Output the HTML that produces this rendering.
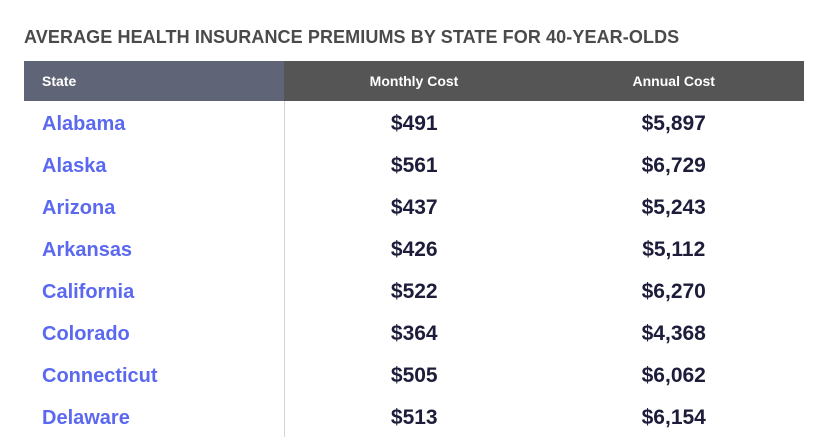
<!DOCTYPE html>
<html><head><meta charset="utf-8"><style>
body{margin:0;width:826px;height:445px;background:#fff;font-family:"Liberation Sans",sans-serif;overflow:hidden;position:relative}
.title{position:absolute;left:24px;top:27px;font-size:18px;font-weight:bold;color:#4a4a4a;letter-spacing:0.1px;white-space:nowrap}
table{position:absolute;left:24px;top:61px;width:780px;border-collapse:collapse}
th{height:40px;color:#fff;font-size:14px;font-weight:bold;padding:0;background:#555}
th.s{background:#5f6577;text-align:left;padding-left:18px;width:242px}
td{height:42px;padding:4px 0 0 0;box-sizing:border-box;text-align:center;font-size:21px;font-weight:bold;color:#1d1d3b}
td.s{text-align:left;padding-left:18px;color:#5b69f0;font-weight:bold;font-size:20px;border-right:1px solid #d4d4d4}
.m{width:260px}
</style></head><body>
<div class="title">AVERAGE HEALTH INSURANCE PREMIUMS BY STATE FOR 40-YEAR-OLDS</div>
<table>
<thead><tr>
<th class="s">State</th>
<th class="m">Monthly Cost</th>
<th>Annual Cost</th></tr></thead>
<tbody>
<tr><td class="s">Alabama</td><td>$491</td><td>$5,897</td></tr>
<tr><td class="s">Alaska</td><td>$561</td><td>$6,729</td></tr>
<tr><td class="s">Arizona</td><td>$437</td><td>$5,243</td></tr>
<tr><td class="s">Arkansas</td><td>$426</td><td>$5,112</td></tr>
<tr><td class="s">California</td><td>$522</td><td>$6,270</td></tr>
<tr><td class="s">Colorado</td><td>$364</td><td>$4,368</td></tr>
<tr><td class="s">Connecticut</td><td>$505</td><td>$6,062</td></tr>
<tr><td class="s">Delaware</td><td>$513</td><td>$6,154</td></tr>
</tbody></table>
</body></html>
